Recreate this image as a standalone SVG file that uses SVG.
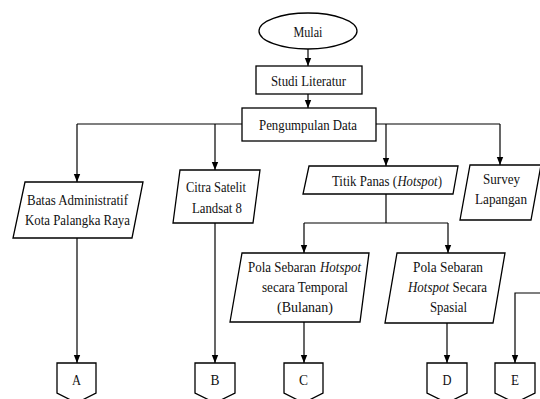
<svg xmlns="http://www.w3.org/2000/svg" width="540" height="399" viewBox="0 0 540 399">
<defs>
<marker id="ah" markerWidth="8" markerHeight="8" viewBox="0 0 8 8" refX="8" refY="4" orient="auto" markerUnits="userSpaceOnUse">
<path d="M0,0.8 L8,4 L0,7.2 Z" fill="#000"/>
</marker>
<style>
.s{fill:#fff;stroke:#000;stroke-width:1.3}
.c{fill:none;stroke:#000;stroke-width:1.2}
.a{marker-end:url(#ah)}
text{font-family:"Liberation Serif","Times New Roman",serif;font-size:15px;fill:#111;text-anchor:middle}
text.l{text-anchor:start}
.i{font-style:italic}
</style>
</defs>
<rect width="540" height="399" fill="#fff"/>
<g id="connectors">
<path class="c a" d="M308,49 V66"/>
<path class="c a" d="M308,94 V108"/>
<path class="c" d="M242,124 H77"/>
<path class="c a" d="M77,124 V182"/>
<path class="c a" d="M215,124 V170"/>
<path class="c" d="M376,124 H500"/>
<path class="c a" d="M386,124 V166"/>
<path class="c a" d="M500,124 V165"/>
<path class="c" d="M386,194 V223 M304,223 H448"/>
<path class="c a" d="M304,223 V253"/>
<path class="c a" d="M448,223 V253"/>
<path class="c a" d="M77,238 V363"/>
<path class="c a" d="M215,223 V363"/>
<path class="c a" d="M304,322 V363"/>
<path class="c a" d="M447,323 V363"/>
<path class="c a" d="M541,293 H515 V363"/>
</g>
<g id="mulai">
<ellipse class="s" cx="308" cy="31" rx="49" ry="18"/>
<text x="308" y="37" textLength="29" lengthAdjust="spacingAndGlyphs">Mulai</text>
</g>
<g id="studi">
<rect class="s" x="256" y="66" width="106" height="28"/>
<text x="308.5" y="86" textLength="75" lengthAdjust="spacingAndGlyphs">Studi Literatur</text>
</g>
<g id="pengumpulan">
<rect class="s" x="242" y="108" width="134" height="33"/>
<text x="308" y="130" textLength="98" lengthAdjust="spacingAndGlyphs">Pengumpulan Data</text>
</g>
<g id="batas">
<polygon class="s" points="25,182 143,182 132,238 13,238"/>
<text x="77.5" y="205" textLength="101" lengthAdjust="spacingAndGlyphs">Batas Administratif</text>
<text x="77.5" y="225" textLength="105" lengthAdjust="spacingAndGlyphs">Kota Palangka Raya</text>
</g>
<g id="citra">
<polygon class="s" points="180,170 260,170 253,223 173,223"/>
<text x="216" y="192" textLength="60" lengthAdjust="spacingAndGlyphs">Citra Satelit</text>
<text x="217" y="213" textLength="50" lengthAdjust="spacingAndGlyphs">Landsat 8</text>
</g>
<g id="titik">
<polygon class="s" points="309,166 458,166 453,194 303,194"/>
<text class="l" x="332" y="186" textLength="65" lengthAdjust="spacingAndGlyphs">Titik Panas (</text>
<text class="l i" x="397.5" y="186" textLength="40" lengthAdjust="spacingAndGlyphs">Hotspot</text>
<text class="l" x="438" y="186" textLength="4" lengthAdjust="spacingAndGlyphs">)</text>
</g>
<g id="survey">
<polygon class="s" points="470,165 541,165 531,220 460,220"/>
<text x="501.5" y="184" textLength="37" lengthAdjust="spacingAndGlyphs">Survey</text>
<text x="501" y="204" textLength="52" lengthAdjust="spacingAndGlyphs">Lapangan</text>
</g>
<g id="temporal">
<polygon class="s" points="242,253 369,253 360,322 230,322"/>
<text class="l" x="248" y="272" textLength="68" lengthAdjust="spacingAndGlyphs">Pola Sebaran</text>
<text class="l i" x="320" y="272" textLength="41" lengthAdjust="spacingAndGlyphs">Hotspot</text>
<text x="305" y="292" textLength="86" lengthAdjust="spacingAndGlyphs">secara Temporal</text>
<text x="305" y="312" textLength="56" lengthAdjust="spacingAndGlyphs">(Bulanan)</text>
</g>
<g id="spasial">
<polygon class="s" points="397,253 505,253 493,323 385,323"/>
<text x="448" y="272" textLength="70" lengthAdjust="spacingAndGlyphs">Pola Sebaran</text>
<text class="l i" x="408" y="292" textLength="41" lengthAdjust="spacingAndGlyphs">Hotspot</text>
<text class="l" x="452.5" y="292" textLength="34.5" lengthAdjust="spacingAndGlyphs">Secara</text>
<text x="448.5" y="312" textLength="37" lengthAdjust="spacingAndGlyphs">Spasial</text>
</g>
<g id="A">
<polygon class="s" points="57,363 96,363 96,393 76.5,403 57,393"/>
<text x="76.5" y="385" textLength="9" lengthAdjust="spacingAndGlyphs">A</text>
</g>
<g id="B">
<polygon class="s" points="195,363 235,363 235,393 215,403 195,393"/>
<text x="215" y="385" textLength="9" lengthAdjust="spacingAndGlyphs">B</text>
</g>
<g id="C">
<polygon class="s" points="284,363 323,363 323,393 303.5,403 284,393"/>
<text x="303.5" y="385" textLength="9" lengthAdjust="spacingAndGlyphs">C</text>
</g>
<g id="D">
<polygon class="s" points="427,363 467,363 467,393 447,403 427,393"/>
<text x="447" y="385" textLength="9" lengthAdjust="spacingAndGlyphs">D</text>
</g>
<g id="E">
<polygon class="s" points="495,363 535,363 535,393 515,403 495,393"/>
<text x="515" y="385" textLength="8" lengthAdjust="spacingAndGlyphs">E</text>
</g>
</svg>
